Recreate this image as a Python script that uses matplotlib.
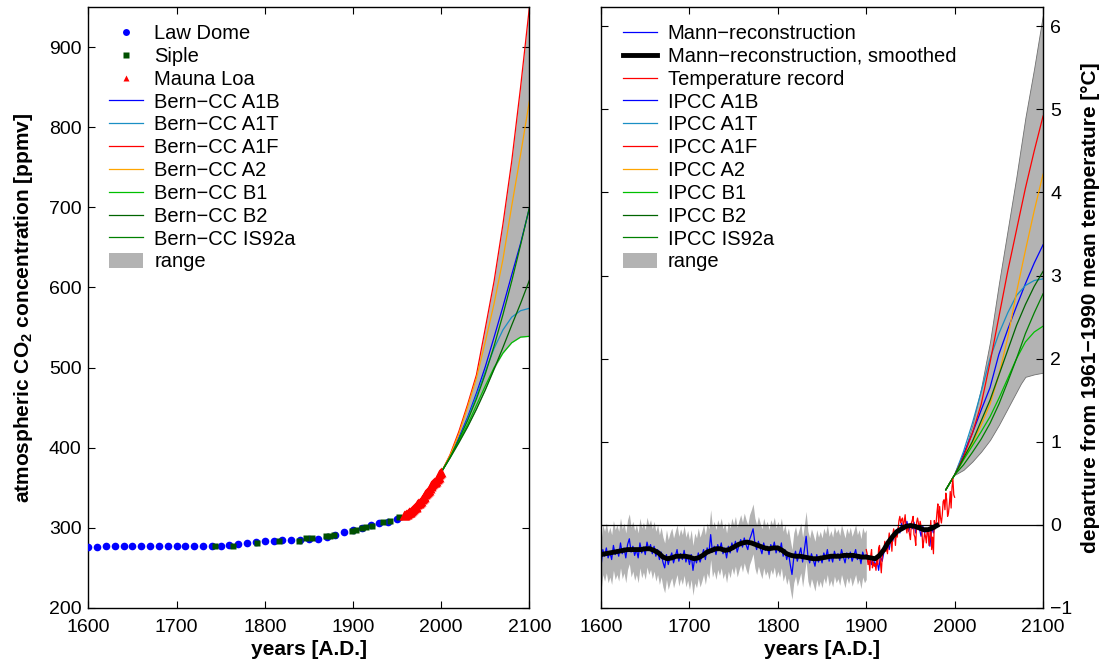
import matplotlib
matplotlib.use("Agg")
import matplotlib.pyplot as plt
import numpy as np
from matplotlib.lines import Line2D
from matplotlib.patches import Patch

plt.rcParams["font.family"] = ["Liberation Sans", "DejaVu Sans"]
plt.rcParams["mathtext.fontset"] = "custom"
plt.rcParams["mathtext.rm"] = "Liberation Sans"
plt.rcParams["mathtext.bf"] = "Liberation Sans:bold"

# ---- left panel: CO2 ----
law_years = list(range(1600, 1951, 10))
law_co2 = [276, 276, 276.5, 276.5, 276.5, 276.8, 277, 277, 277, 277,
           277, 277, 277, 277, 277, 277.5, 278, 279, 280.5, 282,
           283, 283.5, 284, 284.5, 285, 285.5, 286.3, 288.5, 290.8, 294,
           297, 300, 303, 305.5, 307.5, 311]

siple_years = [1744, 1764, 1791, 1816, 1839, 1847, 1854, 1869, 1874, 1879,
               1899, 1903, 1910, 1915, 1921, 1934, 1942, 1952]
siple_co2 = [277.5, 277.5, 280.5, 283.8, 283.8, 287, 287.5, 289, 290, 290.5,
             296, 296.5, 300, 301, 302, 306.7, 308.8, 313]

mlo_years = list(range(1958, 2001))
mlo_co2 = [315.3, 316.0, 316.9, 317.6, 318.5, 319.0, 319.6, 320.0, 321.4, 322.2,
           323.0, 324.6, 325.7, 326.3, 327.5, 329.7, 330.2, 331.1, 332.0, 333.8,
           335.4, 336.8, 338.8, 340.1, 341.5, 343.1, 344.7, 346.1, 347.4, 349.2,
           351.6, 353.1, 354.4, 355.6, 356.5, 357.1, 358.8, 360.8, 362.6, 363.7,
           366.7, 368.4, 369.6]

proj_years = list(range(2000, 2101, 10))
bern_a1b = [369, 389, 412, 438, 468, 501, 538, 576, 616, 655, 699]
bern_a1t = [369, 388, 410, 436, 465, 495, 524, 547, 563, 571, 574]
bern_a1f = [369, 391, 420, 454, 491, 549, 608, 679, 758, 850, 950]
bern_a2 = [369, 390, 417, 451, 487, 532, 580, 635, 702, 766, 833]
bern_b1 = [369, 388, 408, 429, 453, 477, 500, 518, 531, 538, 539]
bern_b2 = [369, 387, 406, 426, 448, 472, 498, 525, 553, 580, 609]
bern_is92a = [369, 388, 410, 434, 461, 492, 527, 566, 608, 653, 700]

# ---- right panel: temperature ----
mann_years = list(range(1600, 1981, 2))
mann_temp = [
    -0.50, -0.30, -0.38, -0.28, -0.40, -0.33, -0.42, -0.25, -0.36, -0.30,
    -0.38, -0.22, -0.35, -0.28, -0.40, -0.24, -0.17, -0.33, -0.26, -0.37,
    -0.30, -0.40, -0.22, -0.34, -0.27, -0.36, -0.21, -0.30, -0.24, -0.35,
    -0.26, -0.38, -0.30, -0.42, -0.33, -0.45, -0.52, -0.36, -0.48, -0.40,
    -0.34, -0.46, -0.38, -0.30, -0.44, -0.35, -0.42, -0.31, -0.45, -0.37,
    -0.48, -0.36, -0.55, -0.40, -0.46, -0.34, -0.45, -0.38, -0.30, -0.42,
    -0.28, -0.35, -0.12, -0.33, -0.26, -0.36, -0.24, -0.31, -0.22, -0.35,
    -0.28, -0.40, -0.26, -0.34, -0.22, -0.30, -0.20, -0.33, -0.25, -0.18,
    -0.27, -0.16, -0.24, -0.30, -0.18, -0.12, -0.05, -0.22, -0.30, -0.20,
    -0.28, -0.35, -0.22, -0.31, -0.26, -0.36, -0.24, -0.30, -0.21, -0.34,
    -0.26, -0.33, -0.22, -0.38, -0.30, -0.42, -0.34, -0.48, -0.60, -0.40,
    -0.32, -0.44, -0.36, -0.28, -0.45, -0.30, -0.14, -0.38, -0.46, -0.35,
    -0.42, -0.50, -0.36, -0.45, -0.38, -0.46, -0.34, -0.41, -0.30, -0.44,
    -0.37, -0.45, -0.32, -0.40, -0.35, -0.43, -0.30, -0.38, -0.46, -0.34,
    -0.41, -0.33, -0.44, -0.37, -0.30, -0.42, -0.36, -0.47, -0.33, -0.40,
    -0.36, -0.45, -0.38, -0.48, -0.40, -0.50, -0.42, -0.55, -0.38, -0.44,
    -0.33, -0.28, -0.22, -0.30, -0.15, -0.20, -0.08, -0.14, -0.04, -0.10,
    0.02, -0.06, -0.03, 0.04, -0.08, 0.00, -0.05, 0.03, -0.10, -0.02,
    -0.04, -0.14, -0.02, -0.10, -0.06, -0.12, -0.26, -0.04, -0.10, 0.02,
    0.00]
mann_err = 0.30
mann_band_end = 1900

smooth_years = list(range(1600, 1981, 5))
smooth_temp = [
    -0.36, -0.35, -0.34, -0.33, -0.32, -0.31, -0.30, -0.30, -0.30, -0.30,
    -0.29, -0.29, -0.31, -0.34, -0.39, -0.41, -0.40, -0.38, -0.38, -0.38,
    -0.39, -0.41, -0.40, -0.37, -0.33, -0.31, -0.29, -0.29, -0.31, -0.30,
    -0.27, -0.24, -0.22, -0.21, -0.22, -0.24, -0.26, -0.28, -0.29, -0.28,
    -0.28, -0.31, -0.35, -0.37, -0.38, -0.38, -0.39, -0.40, -0.41, -0.41,
    -0.40, -0.39, -0.38, -0.38, -0.38, -0.37, -0.37, -0.37, -0.38, -0.39,
    -0.39, -0.40, -0.41, -0.37, -0.30, -0.21, -0.14, -0.08, -0.05, -0.02,
    -0.01, -0.02, -0.04, -0.06, -0.06, -0.04, -0.01]

rec_years = list(range(1900, 2001))
rec_temp = [
    -0.30, -0.35, -0.48, -0.42, -0.55, -0.38, -0.30, -0.52, -0.45, -0.50,
    -0.47, -0.55, -0.42, -0.48, -0.28, -0.25, -0.45, -0.58, -0.40, -0.33,
    -0.30, -0.20, -0.32, -0.28, -0.35, -0.20, -0.10, -0.22, -0.15, -0.32,
    -0.12, -0.05, -0.10, -0.25, -0.08, -0.15, -0.06, 0.05, 0.10, 0.02,
    0.06, 0.08, -0.02, 0.04, 0.12, -0.03, -0.10, 0.00, -0.05, -0.12,
    -0.18, 0.02, 0.05, 0.10, -0.12, -0.15, -0.25, 0.03, 0.08, 0.02,
    -0.05, 0.04, -0.02, -0.08, -0.28, -0.20, -0.10, -0.14, -0.22, -0.05,
    -0.08, -0.25, -0.12, 0.05, -0.30, -0.15, -0.35, 0.05, -0.05, 0.02,
    0.15, 0.25, -0.02, 0.22, 0.08, 0.02, 0.12, 0.28, 0.30, 0.18,
    0.38, 0.30, 0.10, 0.14, 0.25, 0.40, 0.20, 0.45, 0.55, 0.36,
    0.33]

ipcc_years = [1990] + list(range(2000, 2101, 10))
ipcc_a1b = [0.42, 0.6, 0.85, 1.10, 1.38, 1.65, 2.05, 2.35, 2.63, 2.90, 3.15, 3.37]
ipcc_a1t = [0.42, 0.6, 0.88, 1.22, 1.60, 2.00, 2.30, 2.55, 2.76, 2.88, 2.94, 2.96]
ipcc_a1f = [0.42, 0.6, 0.82, 1.10, 1.45, 1.95, 2.50, 3.05, 3.55, 4.05, 4.50, 4.92]
ipcc_a2 = [0.42, 0.6, 0.78, 0.98, 1.20, 1.45, 1.80, 2.25, 2.80, 3.30, 3.78, 4.22]
ipcc_b1 = [0.42, 0.6, 0.78, 0.95, 1.12, 1.30, 1.52, 1.76, 2.00, 2.20, 2.32, 2.39]
ipcc_b2 = [0.42, 0.6, 0.80, 1.00, 1.25, 1.50, 1.80, 2.10, 2.40, 2.65, 2.87, 3.05]
ipcc_is92a = [0.42, 0.6, 0.72, 0.87, 1.03, 1.22, 1.45, 1.72, 2.00, 2.30, 2.55, 2.78]

range_years = [2000, 2010, 2020, 2030, 2040, 2050, 2060, 2070, 2075, 2080, 2090, 2100]
range_hi = [0.6, 0.85, 1.20, 1.65, 2.20, 2.90, 3.55, 4.20, 4.55, 4.90, 5.50, 6.15]
range_lo = [0.6, 0.66, 0.76, 0.88, 1.02, 1.20, 1.40, 1.60, 1.70, 1.78, 1.81, 1.83]

scen_names = ["A1B", "A1T", "A1F", "A2", "B1", "B2", "IS92a"]
scen_colors = ["#0000ff", "#1a8fc4", "#ff0000", "#ffa500", "#00c000", "#006400", "#008000"]

GRAY = "#b3b3b3"
FS = 14       # ticks
LFS = 14.5    # legend
AFS = 15      # axis labels


def style_axis(ax):
    ax.tick_params(direction="in", length=5, width=0.8, labelsize=FS,
                   top=True, bottom=True, left=True, right=True, pad=5)
    ax.tick_params(axis="x", pad=8)
    for s in ax.spines.values():
        s.set_linewidth(1.0)


def add_legend(ax, handles, labels, x0):
    ax.legend(handles, labels, loc="upper left", bbox_to_anchor=(x0, 0.972),
              frameon=False, fontsize=LFS, borderpad=0, borderaxespad=0,
              handlelength=1.69, handletextpad=0.55, labelspacing=0.19,
              numpoints=1, handleheight=0.75)


def main():
    fig = plt.figure(figsize=(10.99, 6.62), dpi=100)
    ax1 = fig.add_axes([0.0804, 0.082, 0.4013, 0.907])
    ax2 = fig.add_axes([0.5469, 0.082, 0.4022, 0.907])

    # left
    bern = np.array([bern_a1b, bern_a1t, bern_a1f, bern_a2, bern_b1, bern_b2, bern_is92a])
    ax1.fill_between(proj_years, bern.min(axis=0), bern.max(axis=0),
                     color=GRAY, lw=0, zorder=1)
    for vals, c in zip(bern, scen_colors):
        ax1.plot(proj_years, vals, color=c, lw=0.9, zorder=2)
    ax1.plot(law_years, law_co2, "o", color="#0000ff", ms=5.5, mec="none", zorder=3)
    ax1.plot(siple_years, siple_co2, "s", color="#005000", ms=5, mec="none", zorder=4)
    ax1.plot(mlo_years, mlo_co2, "^", color="#ff0000", ms=7, mec="none", zorder=5)

    ax1.set_xlim(1600, 2100)
    ax1.set_ylim(200, 950)
    ax1.set_xticks(range(1600, 2101, 100))
    ax1.set_yticks(range(200, 901, 100))
    style_axis(ax1)
    ax1.set_xlabel("years [A.D.]", fontsize=AFS, fontweight="bold", labelpad=3)
    ax1.set_ylabel(r"atmospheric CO$_\mathbf{2}$ concentration [ppmv]",
                   fontsize=AFS, fontweight="bold", labelpad=10)

    h1 = [Line2D([], [], ls="none", marker="o", color="#0000ff", ms=5, mec="none"),
          Line2D([], [], ls="none", marker="s", color="#005000", ms=4.5, mec="none"),
          Line2D([], [], ls="none", marker="^", color="#ff0000", ms=5, mec="none")]
    h1 += [Line2D([], [], color=c, lw=0.9) for c in scen_colors]
    h1.append(Patch(facecolor=GRAY, edgecolor="none"))
    l1 = ["Law Dome", "Siple", "Mauna Loa"] + ["Bern\u2212CC " + n for n in scen_names] + ["range"]
    add_legend(ax1, h1, l1, 0.047)

    # right
    my = np.array(mann_years)
    mt = np.array(mann_temp)
    m = my <= mann_band_end
    ax2.fill_between(my[m], mt[m] - mann_err, mt[m] + mann_err, color=GRAY, lw=0, zorder=1)
    ax2.fill_between(range_years, range_lo, range_hi, facecolor=GRAY,
                     edgecolor="#707070", lw=0.6, zorder=1)
    ax2.plot(mann_years, mann_temp, color="#0000ff", lw=0.9, zorder=2)
    ax2.plot(rec_years, rec_temp, color="#ff0000", lw=0.9, zorder=3)
    ax2.plot(smooth_years, smooth_temp, color="black", lw=3.5, zorder=4)
    ipcc = [ipcc_a1b, ipcc_a1t, ipcc_a1f, ipcc_a2, ipcc_b1, ipcc_b2, ipcc_is92a]
    for vals, c in zip(ipcc, scen_colors):
        ax2.plot(ipcc_years, vals, color=c, lw=0.9, zorder=2)
    ax2.axhline(0, color="black", lw=0.9, zorder=5)

    ax2.set_xlim(1600, 2100)
    ax2.set_ylim(-1, 6.23)
    ax2.set_xticks(range(1600, 2101, 100))
    ax2.set_yticks(range(-1, 7))
    style_axis(ax2)
    ax2.tick_params(labelleft=False, labelright=True)
    ax2.yaxis.set_label_position("right")
    ax2.set_xlabel("years [A.D.]", fontsize=AFS, fontweight="bold", labelpad=3)
    ax2.set_ylabel("departure from 1961\u22121990 mean temperature [\u00b0C]",
                   fontsize=AFS, fontweight="bold", labelpad=6)

    h2 = [Line2D([], [], color="#0000ff", lw=0.9),
          Line2D([], [], color="black", lw=3.5),
          Line2D([], [], color="#ff0000", lw=0.9)]
    h2 += [Line2D([], [], color=c, lw=0.9) for c in scen_colors]
    h2.append(Patch(facecolor=GRAY, edgecolor="none"))
    l2 = ["Mann\u2212reconstruction", "Mann\u2212reconstruction, smoothed", "Temperature record"]
    l2 += ["IPCC " + n for n in scen_names] + ["range"]
    add_legend(ax2, h2, l2, 0.049)

    fig.savefig("out.png", dpi=100)


if __name__ == "__main__":
    main()
